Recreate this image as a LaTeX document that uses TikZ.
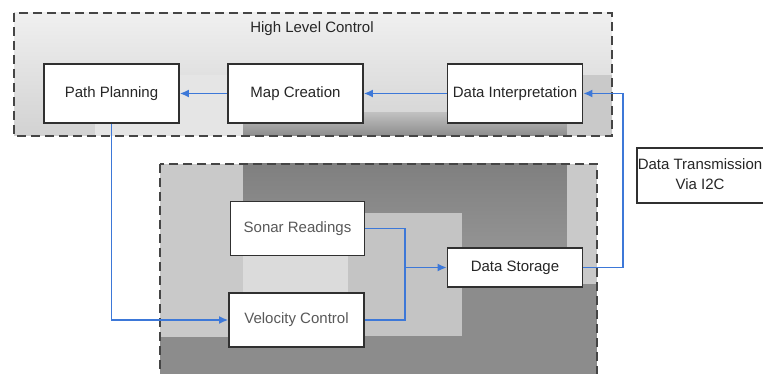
\documentclass[tikz,border=0pt]{standalone}
\usepackage{fontspec}
\setmainfont{Liberation Sans}
\usetikzlibrary{arrows.meta,positioning}
\definecolor{linkblue}{HTML}{3D78D8}
\definecolor{frame}{HTML}{454545}
\definecolor{boxline}{HTML}{303030}
\definecolor{paneA}{HTML}{D2D2D2}
\definecolor{paneB}{HTML}{C9C9C9}
\definecolor{paneDark}{HTML}{8C8C8C}
\tikzset{
  group/.style={draw=frame, line width=2.6pt, dash pattern=on 9pt off 5pt},
  block/.style={draw=boxline, line width=1.8pt, fill=white, minimum width=135pt,
    inner sep=0pt, font=\fontsize{15}{17}\selectfont, text=black!85},
  softblock/.style={block, text=black!65},
  link/.style={draw=linkblue, line width=1.3pt, -{Latex[length=9pt,width=8pt]}},
  plain/.style={draw=linkblue, line width=1.3pt},
  label/.style={font=\fontsize{15}{17}\selectfont, text=black!85, inner sep=0pt}
}
\begin{document}
\begin{tikzpicture}[x=1pt,y=-1pt]
\useasboundingbox (0,0) rectangle (763,374);
\fill[white] (0,0) rectangle (763,374);

% upper group: shaded panel
\shade[top color=white!94!black, bottom color=paneA] (14,13) rectangle (612,136);
\fill[white!90!black] (95,75) rectangle (243,136);
\shade[top color=white!75!black, bottom color=paneDark] (243,113) rectangle (567,136);
\fill[paneB] (567,75) rectangle (612,136);

% lower group: patchy grey panel
\fill[paneDark] (160,164) rectangle (597,374);
\shade[top color=white!50!black, bottom color=white!58!black] (243,164) rectangle (567,250);
\fill[paneB] (160,164) rectangle (243,337);
\fill[paneB] (567,164) rectangle (597,284);
\fill[white!77!black] (348,213) rectangle (462,336);
\fill[white!86!black] (243,256) rectangle (348,292);

% group frames
\draw[group] (14,13) rectangle (612,136);
\draw[group] (160,164) rectangle (597,380);

\node[label] (title) at (312,29) {High Level Control};

% blocks of the upper group
\node[block, minimum height=59pt] (path) at (111.5,93.5) {Path Planning};
\node[block, minimum height=59pt] (map)  at (295.5,93.5) {Map Creation};
\node[block, minimum height=59pt] (interp) at (515,93.5) {Data Interpretation};

% blocks of the lower group
\node[softblock, minimum width=134pt, minimum height=54pt] (sonar) at (297.5,228.5) {Sonar Readings};
\node[softblock, minimum width=135pt, minimum height=54pt] (vel) at (296.5,320) {Velocity Control};
\node[block, minimum width=135pt, minimum height=39pt] (store) at (515,267.5) {Data Storage};

% link label box
\node[draw=boxline, line width=1.8pt, fill=white, minimum width=150pt, minimum height=55pt,
      anchor=north west, inner sep=0pt] (busbox) at (636,147) {};
\node[label, align=center] (bus) at (700,174) {Data Transmission\\[3pt]Via I2C};

% connectors
\coordinate (joinA) at (405,267.5);
\coordinate (upR) at (623,93.5);
\coordinate (dnR) at (623,267.5);
\draw[link] (map.west) -- (path.east);
\draw[link] (interp.west) -- (map.east);
\draw[link] (path.south) |- (vel.west);
\draw[plain] (sonar.east) -| (joinA);
\draw[plain] (vel.east) -| (joinA);
\draw[link] (joinA) -- (store.west);
\draw[link] (store.east) -- (dnR) -- (upR) -- (interp.east);
\end{tikzpicture}
\end{document}
